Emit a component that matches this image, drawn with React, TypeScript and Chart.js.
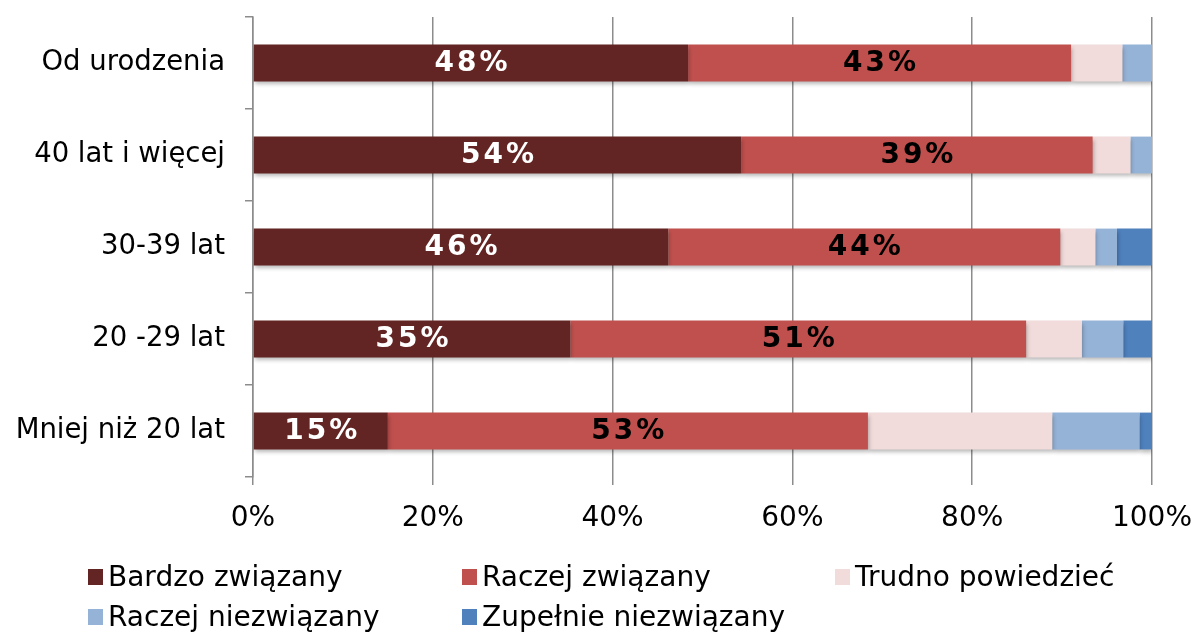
import React, { useEffect, useRef } from "react";
import { Chart, registerables } from "chart.js";

Chart.register(...registerables);

const categories = ["Od urodzenia", "40 lat i więcej", "30-39 lat", "20 -29 lat", "Mniej niż 20 lat"];
const seriesNames = ["Bardzo związany", "Raczej związany", "Trudno powiedzieć", "Raczej niezwiązany", "Zupełnie niezwiązany"];
const seriesColors = ["#632523", "#C0504D", "#F2DCDB", "#95B3D7", "#4F81BD"];
const bardzo = [48.4, 54.3, 46.2, 35.3, 15.0];
const raczej = [42.6, 39.1, 43.6, 50.7, 53.4];
const trudno = [5.7, 4.2, 3.9, 6.2, 20.5];
const raczejNie = [3.3, 2.4, 2.4, 4.6, 9.7];
const zupelnie = [0, 0, 3.9, 3.2, 1.4];
const seriesValues = [bardzo, raczej, trudno, raczejNie, zupelnie];
const labelColors = ["#ffffff", "#000000"];
const xTicks = [0, 20, 40, 60, 80, 100];

const FONT = "'DejaVu Sans', Verdana, sans-serif";

const shadowPlugin = {
  id: "barShadow",
  beforeDatasetsDraw(chart: any) {
    const ctx = chart.ctx;
    ctx.save();
    ctx.shadowColor = "rgba(0,0,0,0.28)";
    ctx.shadowBlur = 4;
    ctx.shadowOffsetX = 1;
    ctx.shadowOffsetY = 3;
  },
  afterDatasetsDraw(chart: any) {
    chart.ctx.restore();
  },
};

const labelPlugin = {
  id: "segLabels",
  afterDatasetsDraw(chart: any) {
    const ctx = chart.ctx;
    ctx.save();
    ctx.font = `bold 28px ${FONT}`;
    (ctx as any).letterSpacing = "3px";
    ctx.textAlign = "center";
    ctx.textBaseline = "middle";
    [0, 1].forEach((di) => {
      const meta = chart.getDatasetMeta(di);
      meta.data.forEach((el: any, i: number) => {
        const v = chart.data.datasets[di].data[i] as number;
        const cx = (el.x + el.base) / 2 + 1.5;
        ctx.fillStyle = labelColors[di];
        ctx.fillText(Math.round(v) + "%", cx, el.y + 1);
      });
    });
    ctx.restore();
  },
};

export default function App() {
  const ref = useRef<HTMLCanvasElement>(null);
  useEffect(() => {
    if (!ref.current) return;
    const chart = new Chart(ref.current, {
      type: "bar",
      data: {
        labels: categories,
        datasets: seriesNames.map((n, i) => ({
          label: n,
          data: seriesValues[i],
          backgroundColor: seriesColors[i],
          borderWidth: 0,
          barPercentage: 0.4,
          categoryPercentage: 1,
        })),
      },
      options: {
        indexAxis: "y",
        animation: false,
        responsive: false,
        maintainAspectRatio: false,
        layout: { padding: { top: 17, right: 43, bottom: 95, left: 0 } },
        plugins: { legend: { display: false }, tooltip: { enabled: false } },
        scales: {
          x: {
            stacked: true,
            min: 0,
            max: 100,
            afterBuildTicks(scale: any) {
              scale.ticks = xTicks.map((v) => ({ value: v }));
            },
            afterFit(scale: any) {
              scale.height = 60;
              scale.paddingLeft = 0;
              scale.paddingRight = 0;
            },
            ticks: {
              callback: (v: any) => v + "%",
              color: "#000",
              font: { family: FONT, size: 28 },
              padding: 17,
              maxRotation: 0,
            },
            grid: { color: "#8c8c8c", lineWidth: 1.5, tickLength: 8 },
            border: { display: false },
          },
          y: {
            stacked: true,
            afterFit(scale: any) {
              scale.width = 253;
              scale.paddingTop = 0;
              scale.paddingBottom = 0;
            },
            ticks: {
              color: "#000",
              font: { family: FONT, size: 27.5 },
              padding: 20,
            },
            grid: { drawOnChartArea: false, color: "#8c8c8c", lineWidth: 1.5, tickLength: 8, offset: true },
            border: { display: true, color: "#8c8c8c", width: 1.5 },
          },
        },
      },
      plugins: [shadowPlugin, labelPlugin],
    });
    return () => chart.destroy();
  }, []);

  const legendPos = [
    { left: 88, top: 562 },
    { left: 462, top: 562 },
    { left: 835, top: 562 },
    { left: 88, top: 602 },
    { left: 462, top: 602 },
  ];

  return (
    <div style={{ position: "absolute", left: 0, top: 0, width: 1195, height: 632, background: "#fff" }}>
      <canvas ref={ref} width={1195} height={632} style={{ position: "absolute", left: 0, top: 0 }} />
      {seriesNames.map((n, i) => (
        <div
          key={n}
          style={{
            position: "absolute",
            left: legendPos[i].left,
            top: legendPos[i].top,
            display: "flex",
            alignItems: "center",
            fontFamily: FONT,
            fontSize: 28,
            color: "#000",
            whiteSpace: "nowrap",
            lineHeight: "30px",
          }}
        >
          <span style={{ display: "inline-block", width: 15, height: 16, background: seriesColors[i], marginRight: 5 }} />
          {n}
        </div>
      ))}
    </div>
  );
}
